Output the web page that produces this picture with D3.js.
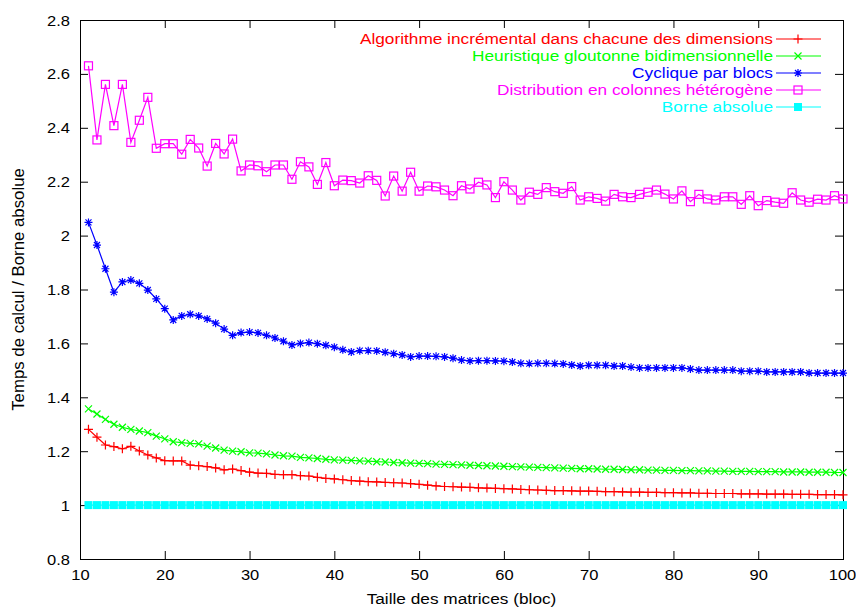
<!DOCTYPE html>
<html>
<head>
<meta charset="utf-8">
<script src="https://cdn.jsdelivr.net/npm/d3@7"></script>
<style>
  html, body { margin: 0; padding: 0; background: #fff; }
  svg { display: block; }
  text { font-family: "Liberation Sans", Arial, Helvetica, sans-serif; }
</style>
</head>
<body>
<svg id="chart" width="856" height="608"></svg>
<script>
// Block sizes (x axis)
const blockSizes = d3.range(11, 101);

// Ratio of computation time to absolute bound, one value per block size
const incremental = [
  1.281, 1.252, 1.223, 1.217, 1.209, 1.218, 1.201, 1.186, 1.175, 1.165,
  1.164, 1.164, 1.148, 1.146, 1.143, 1.138, 1.131, 1.134, 1.128, 1.122,
  1.119, 1.118, 1.114, 1.113, 1.113, 1.109, 1.108, 1.103, 1.099, 1.097,
  1.094, 1.091, 1.089, 1.087, 1.086, 1.084, 1.083, 1.082, 1.080, 1.077,
  1.074, 1.071, 1.069, 1.068, 1.067, 1.066, 1.064, 1.063, 1.062, 1.061,
  1.060, 1.058, 1.057, 1.056, 1.055, 1.054, 1.054, 1.053, 1.052, 1.052,
  1.051, 1.050, 1.050, 1.049, 1.048, 1.048, 1.047, 1.047, 1.046, 1.046,
  1.045, 1.045, 1.044, 1.044, 1.043, 1.043, 1.043, 1.042, 1.042, 1.042,
  1.041, 1.041, 1.041, 1.040, 1.040, 1.040, 1.039, 1.039, 1.039, 1.038
];

const greedy2d = [
  1.357, 1.338, 1.318, 1.300, 1.289, 1.281, 1.275, 1.269, 1.256, 1.246,
  1.235, 1.232, 1.229, 1.227, 1.219, 1.212, 1.204, 1.200, 1.198, 1.194,
  1.193, 1.190, 1.186, 1.183, 1.182, 1.177, 1.175, 1.173, 1.170, 1.168,
  1.167, 1.166, 1.164, 1.163, 1.161, 1.160, 1.158, 1.157, 1.156, 1.155,
  1.154, 1.152, 1.151, 1.150, 1.149, 1.148, 1.147, 1.146, 1.145, 1.144,
  1.143, 1.142, 1.141, 1.140, 1.139, 1.138, 1.137, 1.136, 1.135, 1.135,
  1.134, 1.133, 1.133, 1.132, 1.131, 1.131, 1.130, 1.130, 1.129, 1.129,
  1.128, 1.128, 1.127, 1.127, 1.126, 1.126, 1.125, 1.125, 1.125, 1.124,
  1.124, 1.124, 1.123, 1.123, 1.123, 1.122, 1.122, 1.122, 1.121, 1.121
];

const blockCyclic = [
  2.049, 1.965, 1.877, 1.790, 1.828, 1.835, 1.823, 1.798, 1.765, 1.729,
  1.687, 1.702, 1.708, 1.702, 1.691, 1.675, 1.653, 1.630, 1.640, 1.642,
  1.639, 1.630, 1.620, 1.608, 1.594, 1.600, 1.603, 1.599, 1.593, 1.586,
  1.576, 1.568, 1.573, 1.573, 1.572, 1.567, 1.562, 1.557, 1.550, 1.553,
  1.553, 1.552, 1.550, 1.545, 1.538, 1.535, 1.536, 1.536, 1.535, 1.534,
  1.531, 1.526, 1.525, 1.526, 1.526, 1.525, 1.524, 1.520, 1.516, 1.519,
  1.519, 1.519, 1.516, 1.516, 1.512, 1.509, 1.509, 1.509, 1.509, 1.509,
  1.509, 1.505, 1.501, 1.501, 1.501, 1.501, 1.501, 1.497, 1.497, 1.497,
  1.494, 1.494, 1.494, 1.494, 1.494, 1.490, 1.490, 1.490, 1.490, 1.490
];

const heteroColumns = [
  2.630, 2.355, 2.561, 2.408, 2.561, 2.346, 2.428, 2.513, 2.324, 2.341,
  2.341, 2.302, 2.357, 2.325, 2.258, 2.342, 2.303, 2.358, 2.240, 2.262,
  2.259, 2.237, 2.262, 2.262, 2.209, 2.274, 2.255, 2.190, 2.271, 2.185,
  2.206, 2.204, 2.195, 2.222, 2.205, 2.147, 2.221, 2.165, 2.235, 2.165,
  2.184, 2.181, 2.169, 2.148, 2.185, 2.173, 2.198, 2.188, 2.141, 2.200,
  2.169, 2.132, 2.161, 2.153, 2.178, 2.163, 2.157, 2.182, 2.132, 2.144,
  2.138, 2.128, 2.153, 2.144, 2.141, 2.153, 2.161, 2.169, 2.154, 2.136,
  2.166, 2.126, 2.153, 2.136, 2.132, 2.144, 2.144, 2.116, 2.148, 2.111,
  2.130, 2.124, 2.120, 2.159, 2.132, 2.124, 2.135, 2.132, 2.148, 2.136
];

const absoluteBound = blockSizes.map(() => 1.0);

const seriesNames = [
  "Algorithme incrémental dans chacune des dimensions",
  "Heuristique gloutonne bidimensionnelle",
  "Cyclique par blocs",
  "Distribution en colonnes hétérogène",
  "Borne absolue"
];
const seriesColors = ["#ff0000", "#00ff00", "#0000ff", "#ff00ff", "#00ffff"];
const seriesMarkers = ["plus", "cross", "star", "box", "boxfilled"];
const seriesValues = [incremental, greedy2d, blockCyclic, heteroColumns, absoluteBound];

const xTicks = [10, 20, 30, 40, 50, 60, 70, 80, 90, 100];
const yTicks = [0.8, 1.0, 1.2, 1.4, 1.6, 1.8, 2.0, 2.2, 2.4, 2.6, 2.8];

const xTitle = "Taille des matrices (bloc)";
const yTitle = "Temps de calcul / Borne absolue";

// ---- layout ----
const plot = { left: 80, right: 843, top: 20, bottom: 559 };
const fontSize = 15;
const stretch = 1.15;   // glyphs are slightly wider than tall
const tickStretch = 1.1;

const svg = d3.select("#chart");

const x = d3.scaleLinear().domain([10, 100]).range([plot.left, plot.right]);
const y = d3.scaleLinear().domain([0.8, 2.8]).range([plot.bottom, plot.top]);

const fmtY = d => String(+d.toFixed(1));

// place a horizontally stretched text at (px, py)
function stretchedText(parent, px, py, str, anchor, color, sx) {
  return parent.append("text")
    .attr("transform", `translate(${px},${py}) scale(${sx || stretch},1)`)
    .attr("text-anchor", anchor)
    .attr("fill", color || "#000")
    .style("font-size", fontSize + "px")
    .text(str);
}

function styleAxis(g) {
  g.select(".domain").remove();
  g.selectAll(".tick line").attr("stroke", "#000").attr("stroke-width", 1);
  g.selectAll(".tick text").remove();
}

// bottom axis with inward ticks
const gx = svg.append("g")
  .attr("transform", `translate(0,${plot.bottom})`)
  .call(d3.axisBottom(x).tickValues(xTicks).tickSize(-8))
  .call(styleAxis);
gx.selectAll(".tick").each(function (d) {
  stretchedText(d3.select(this), d === 100 ? -1 : 0, 21, d3.format("d")(d), "middle", "#000", tickStretch);
});

// top mirror ticks
svg.append("g")
  .attr("transform", `translate(0,${plot.top})`)
  .call(d3.axisTop(x).tickValues(xTicks).tickSize(-8))
  .call(styleAxis);

// left axis with inward ticks
const gy = svg.append("g")
  .attr("transform", `translate(${plot.left},0)`)
  .call(d3.axisLeft(y).tickValues(yTicks).tickSize(-8))
  .call(styleAxis);
gy.selectAll(".tick").each(function (d) {
  stretchedText(d3.select(this), -10, 5, fmtY(d), "end", "#000", tickStretch);
});

// right mirror ticks
svg.append("g")
  .attr("transform", `translate(${plot.right},0)`)
  .call(d3.axisRight(y).tickValues(yTicks).tickSize(-8))
  .call(styleAxis);

// frame
svg.append("rect")
  .attr("x", plot.left + 0.5).attr("y", plot.top + 0.5)
  .attr("width", plot.right - plot.left).attr("height", plot.bottom - plot.top)
  .attr("fill", "none").attr("stroke", "#000").attr("stroke-width", 1);

// axis titles
stretchedText(svg, (plot.left + plot.right) / 2, 604, xTitle, "middle");

svg.append("text")
  .attr("transform", `translate(24,${(plot.top + plot.bottom) / 2}) rotate(-90) scale(1.12,${stretch})`)
  .attr("text-anchor", "middle")
  .style("font-size", fontSize + "px")
  .text(yTitle);

// point markers
function drawMarker(sel, type, color) {
  if (type === "plus") {
    sel.append("path").attr("d", "M-4.5,0H4.5M0,-4.5V4.5")
      .attr("stroke", color).attr("stroke-width", 1.2).attr("fill", "none");
  } else if (type === "cross") {
    sel.append("path").attr("d", "M-3.5,-3.5L3.5,3.5M-3.5,3.5L3.5,-3.5")
      .attr("stroke", color).attr("stroke-width", 1.2).attr("fill", "none");
  } else if (type === "star") {
    sel.append("path").attr("d", "M-4,0H4M0,-4V4M-3,-3L3,3M-3,3L3,-3")
      .attr("stroke", color).attr("stroke-width", 1.2).attr("fill", "none");
  } else if (type === "box") {
    sel.append("rect").attr("x", -4).attr("y", -4).attr("width", 8).attr("height", 8)
      .attr("stroke", color).attr("stroke-width", 1.2).attr("fill", "none");
  } else if (type === "boxfilled") {
    sel.append("rect").attr("x", -4).attr("y", -4).attr("width", 8).attr("height", 8)
      .attr("fill", color).attr("stroke", "none");
  }
}

const line = d3.line().x(d => x(d[0])).y(d => y(d[1]));

const plotArea = svg.append("g");
seriesValues.forEach((vals, i) => {
  const pts = blockSizes.map((b, j) => [b, vals[j]]);
  const g = plotArea.append("g");
  g.append("path").datum(pts)
    .attr("d", line)
    .attr("fill", "none")
    .attr("stroke", seriesColors[i])
    .attr("stroke-width", 1.2);
  g.selectAll("g.pt").data(pts).enter().append("g")
    .attr("class", "pt")
    .attr("transform", d => `translate(${x(d[0])},${y(d[1])})`)
    .each(function () { drawMarker(d3.select(this), seriesMarkers[i], seriesColors[i]); });
});

// legend, top right
const legendRowH = 17;
const legend = svg.append("g");
seriesNames.forEach((name, i) => {
  const cy = 39 + i * legendRowH;
  stretchedText(legend, 773, cy + 5, name, "end", seriesColors[i]);
  legend.append("line")
    .attr("x1", 776).attr("x2", 821).attr("y1", cy).attr("y2", cy)
    .attr("stroke", seriesColors[i]).attr("stroke-width", 1.2);
  const m = legend.append("g").attr("transform", `translate(798,${cy})`);
  drawMarker(m, seriesMarkers[i], seriesColors[i]);
});
</script>
</body>
</html>
